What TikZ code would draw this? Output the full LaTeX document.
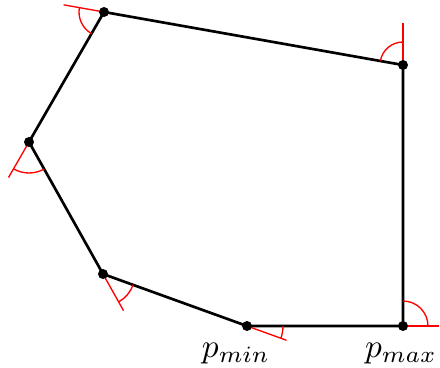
\documentclass[tikz,border=0pt]{standalone}
\usepackage{amsmath,amssymb}
\usepackage{tikz}
\usetikzlibrary{calc,angles}

\begin{document}
\begin{tikzpicture}[x=0.3pt,y=-0.3pt,
        vertex/.style={circle,fill=black,inner sep=0pt,minimum size=3pt},
        hull/.style={black,thick,line join=round},
        ext/.style={red,thin},
        ang/.style={draw=red,thin}]
  \useasboundingbox (0,0) rectangle (440,368);
  \coordinate (pmin) at (247,326);
  \coordinate (pmax) at (403,326);
  \coordinate (ptr) at (403,65);
  \coordinate (ptl) at (104,12);
  \coordinate (pl) at (29,142);
  \coordinate (pbl) at (103,274);
  \draw[hull] (pmin) -- (pmax) -- (ptr) -- (ptl) -- (pl) -- (pbl) -- cycle;
  \foreach \a/\b/\c/\r/\l in {pbl/pmin/pmax/10.8pt/12.6pt,
                              pmin/pmax/ptr/7.5pt/10.8pt,
                              pmax/ptr/ptl/6.9pt/12.6pt,
                              ptr/ptl/pl/7.5pt/12.3pt,
                              ptl/pl/pbl/9.3pt/12.3pt,
                              pl/pbl/pmin/9.6pt/12.6pt}{
    \draw[ext] (\b) -- ($(\b)!-\l!(\a)$) coordinate (e\b);
    \pic[ang,angle radius=\r] {angle=e\b--\b--\c};
  }
  \foreach \p in {pmin,pmax,ptr,ptl,pl,pbl}
    \node[vertex] (d\p) at (\p) {};
  \node[anchor=base] (lmin) at (236,357) {$p_{min}$};
  \node[anchor=base] (lmax) at (401,357) {$p_{max}$};
\end{tikzpicture}
\end{document}
